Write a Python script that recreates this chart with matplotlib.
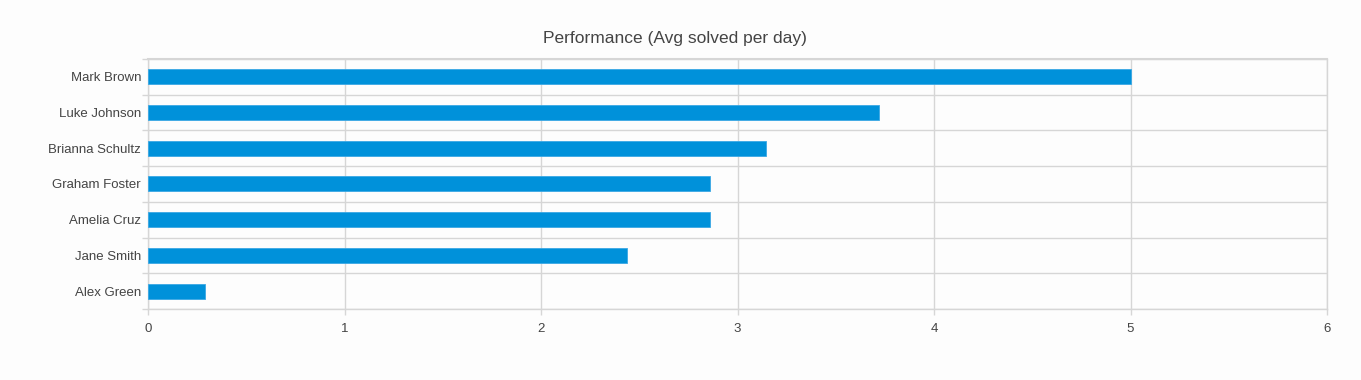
import matplotlib
matplotlib.use("Agg")
import matplotlib.pyplot as plt
import numpy as np

names = ["Mark Brown", "Luke Johnson", "Brianna Schultz", "Graham Foster",
         "Amelia Cruz", "Jane Smith", "Alex Green"]
values = [5.0, 3.72, 3.145, 2.86, 2.86, 2.44, 0.29]
xticks = [0, 1, 2, 3, 4, 5, 6]
title = "Performance (Avg solved per day)"

plt.rcParams['font.family'] = ['Liberation Sans', 'DejaVu Sans']

bg = "#fdfdfd"
grid_c = "#d6d6d6"
text_c = "#444444"
bar_c = "#0091da"

fig = plt.figure(figsize=(13.61, 3.8), dpi=100, facecolor=bg)
ax = fig.add_axes([148/1361, 1-309/380, (1327-148)/1361, (309-59)/380])
ax.set_facecolor(bg)

n = len(names)
ypos = np.arange(n)[::-1]
ax.barh(ypos, values, height=0.42, color=bar_c, edgecolor="#3aa8e4", linewidth=0.6, zorder=3)

ax.set_xlim(0, 6)
ax.set_ylim(-0.5, n - 0.5)
ax.set_xticks(xticks)
ax.set_xticklabels([str(t) for t in xticks])
ax.set_yticks(ypos)
ax.set_yticklabels(names)
ax.set_yticks(np.arange(-0.5, n, 1.0), minor=True)

ax.tick_params(axis='y', which='major', length=0, pad=5, labelsize=9.5, labelcolor=text_c)
ax.tick_params(axis='y', which='minor', length=4, color=grid_c, width=1)
ax.tick_params(axis='x', which='major', length=4, color=grid_c, width=1, pad=6,
               labelsize=9.5, labelcolor=text_c)

ax.grid(True, axis='x', which='major', color=grid_c, linewidth=1, zorder=0)
ax.grid(True, axis='y', which='minor', color=grid_c, linewidth=1, zorder=0)
ax.grid(False, axis='y', which='major')

for s in ['left', 'bottom', 'top', 'right']:
    ax.spines[s].set_color(grid_c)
    ax.spines[s].set_linewidth(1)
ax.spines['top'].set_linewidth(1.5)

fig.text(675/1361, 1-38.5/380, title, ha='center', va='center',
         fontsize=12.5, color=text_c)

fig.savefig("out.png", dpi=100, facecolor=bg)
